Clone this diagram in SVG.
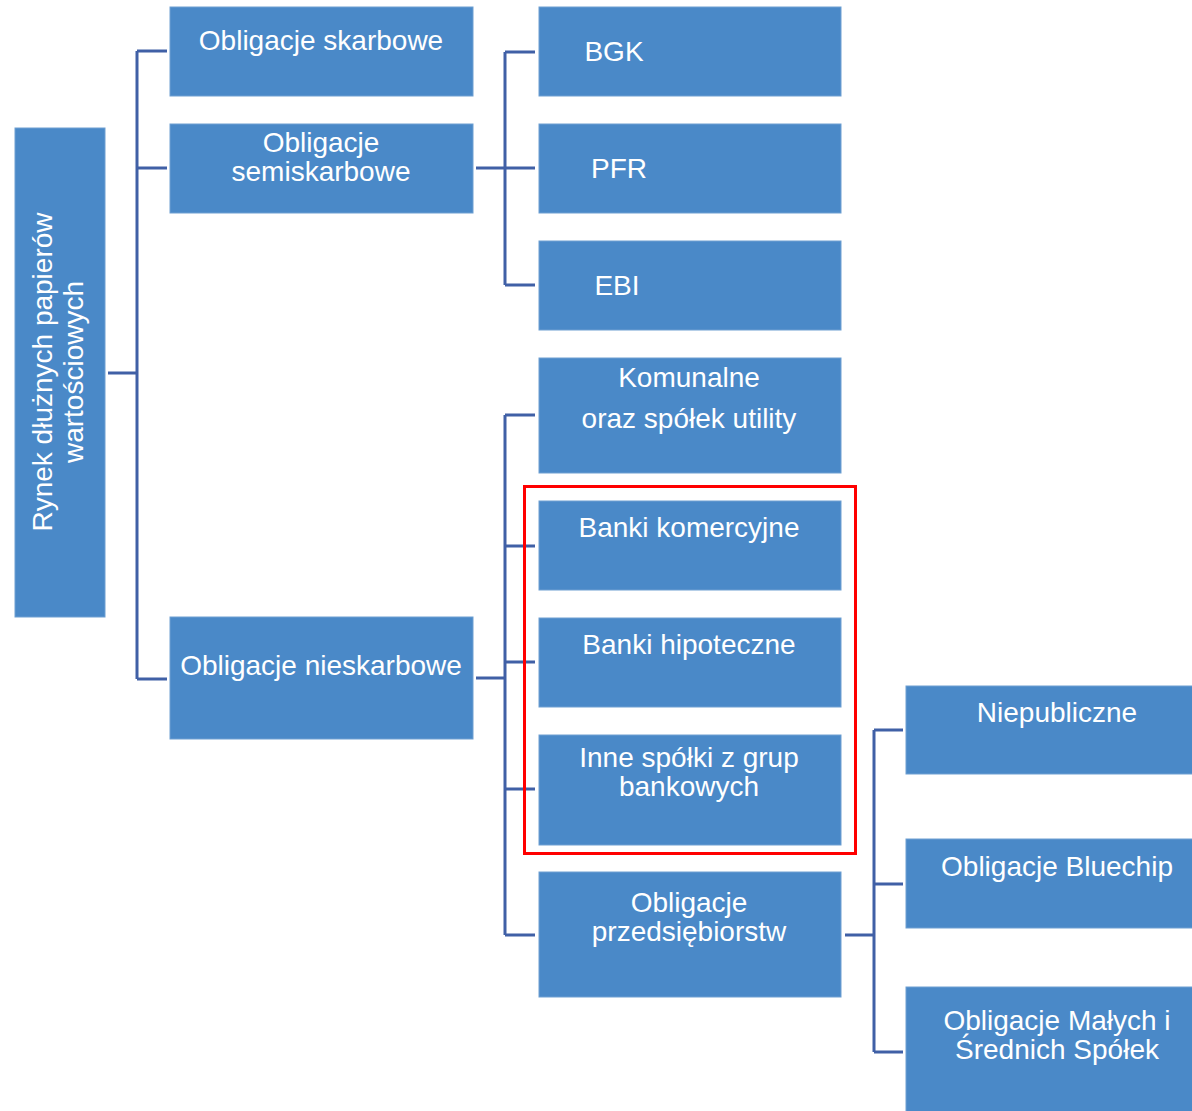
<svg xmlns="http://www.w3.org/2000/svg" width="1192" height="1111" viewBox="0 0 1192 1111">
<style>
.box{fill:#4A89C8;stroke:#6E9FD2;stroke-width:1}
.t{font-family:"Liberation Sans",Arial,sans-serif;font-size:28px;fill:#ffffff;text-anchor:middle}
.c{fill:none;stroke:#4060A6;stroke-width:3}
</style>
<rect width="1192" height="1111" fill="#ffffff"/>
<g id="connectors">
<path class="c" d="M108,373 H137 M137,51 V679 M137,51 H167 M137,168 H167 M137,679 H167"/>
<path class="c" d="M476,168 H535 M505,52 V285 M505,52 H535 M505,285 H535"/>
<path class="c" d="M476,678 H505 M505,415 V935 M505,415 H535 M505,546 H535 M505,662 H535 M505,789 H535 M505,935 H535"/>
<path class="c" d="M845,935 H874 M874,730 V1052 M874,730 H903 M874,884 H903 M874,1052 H903"/>
</g>
<g id="root"><rect class="box" x="15" y="128" width="90" height="489"/>
<text class="t" transform="rotate(-90)" x="-372" y="52">Rynek dłużnych papierów</text>
<text class="t" transform="rotate(-90)" x="-372" y="83">wartościowych</text></g>
<g id="skarbowe"><rect class="box" x="170" y="7" width="303" height="89"/><text class="t" x="321" y="50">Obligacje skarbowe</text></g>
<g id="semiskarbowe"><rect class="box" x="170" y="124" width="303" height="89"/><text class="t" x="321" y="152">Obligacje</text><text class="t" x="321" y="181">semiskarbowe</text></g>
<g id="nieskarbowe"><rect class="box" x="170" y="617" width="303" height="122"/><text class="t" x="321" y="675">Obligacje nieskarbowe</text></g>
<g id="bgk"><rect class="box" x="539" y="7" width="302" height="89"/><text class="t" x="614" y="61">BGK</text></g>
<g id="pfr"><rect class="box" x="539" y="124" width="302" height="89"/><text class="t" x="619" y="178">PFR</text></g>
<g id="ebi"><rect class="box" x="539" y="241" width="302" height="89"/><text class="t" x="617" y="295">EBI</text></g>
<g id="komunalne"><rect class="box" x="539" y="358" width="302" height="115"/><text class="t" x="689" y="387">Komunalne</text><text class="t" x="689" y="428">oraz spółek utility</text></g>
<g id="banki-komercyjne"><rect class="box" x="539" y="501" width="302" height="89"/><text class="t" x="689" y="537">Banki komercyjne</text></g>
<g id="banki-hipoteczne"><rect class="box" x="539" y="618" width="302" height="89"/><text class="t" x="689" y="654">Banki hipoteczne</text></g>
<g id="inne"><rect class="box" x="539" y="735" width="302" height="110"/><text class="t" x="689" y="767">Inne spółki z grup</text><text class="t" x="689" y="796">bankowych</text></g>
<g id="przedsiebiorstw"><rect class="box" x="539" y="872" width="302" height="125"/><text class="t" x="689" y="912">Obligacje</text><text class="t" x="689" y="941">przedsiębiorstw</text></g>
<g id="niepubliczne"><rect class="box" x="906" y="686" width="290" height="88"/><text class="t" x="1057" y="722">Niepubliczne</text></g>
<g id="bluechip"><rect class="box" x="906" y="839" width="290" height="89"/><text class="t" x="1057" y="876">Obligacje Bluechip</text></g>
<g id="msp"><rect class="box" x="906" y="987" width="290" height="130"/><text class="t" x="1057" y="1030">Obligacje Małych i</text><text class="t" x="1057" y="1059">Średnich Spółek</text></g>
<rect id="highlight" x="524.5" y="486.5" width="331" height="367" fill="none" stroke="#FF0000" stroke-width="3"/>
</svg>
